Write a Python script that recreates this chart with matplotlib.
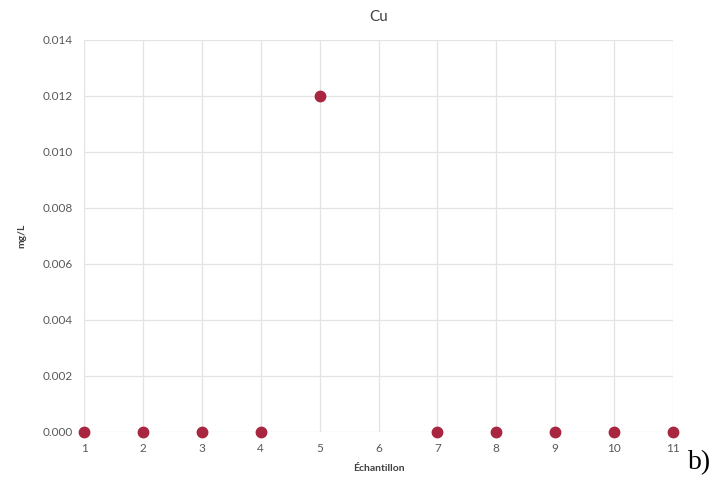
import matplotlib
matplotlib.use("Agg")
import matplotlib.pyplot as plt

# Données
echantillons = [1, 2, 3, 4, 5, 7, 8, 9, 10, 11]
cu_mg_l = [0.0, 0.0, 0.0, 0.0, 0.012, 0.0, 0.0, 0.0, 0.0, 0.0]
x_ticks = list(range(1, 12))
y_ticks = [0.000, 0.002, 0.004, 0.006, 0.008, 0.010, 0.012, 0.014]

plt.rcParams['font.family'] = ['Lato', 'DejaVu Sans']

fig = plt.figure(figsize=(7.25, 4.95), dpi=100)
ax = fig.add_axes([84 / 725, 1 - 432 / 495, (673 - 84) / 725, (432 - 40) / 495])

ax.plot(echantillons, cu_mg_l, linestyle='none', marker='o', markersize=7.5,
        color='#A8263F', clip_on=False, zorder=3)

ax.set_xlim(1, 11)
ax.set_ylim(0, 0.014)
ax.set_xticks(x_ticks)
ax.set_yticks(y_ticks)
ax.set_yticklabels([f'{v:.3f}' for v in y_ticks])
ax.grid(True, color='#E3E3E3', linewidth=0.9)
ax.set_axisbelow(True)
for s in ax.spines.values():
    s.set_visible(False)
ax.tick_params(length=0, labelsize=8.5, colors='#595959', pad=8)

ax.set_title('Cu', fontsize=11, color='#404040', pad=14)
ax.set_xlabel('Échantillon', fontsize=7.5, color='#404040', fontweight='bold', labelpad=7)
ax.set_ylabel('mg/L', fontsize=7.5, color='#404040', fontweight='bold', labelpad=12)

fig.text(700 / 725, 1 - 463 / 495, 'b)', fontsize=20, family='Liberation Serif',
         ha='center', va='center', color='black')

fig.savefig('out.png', dpi=100)
